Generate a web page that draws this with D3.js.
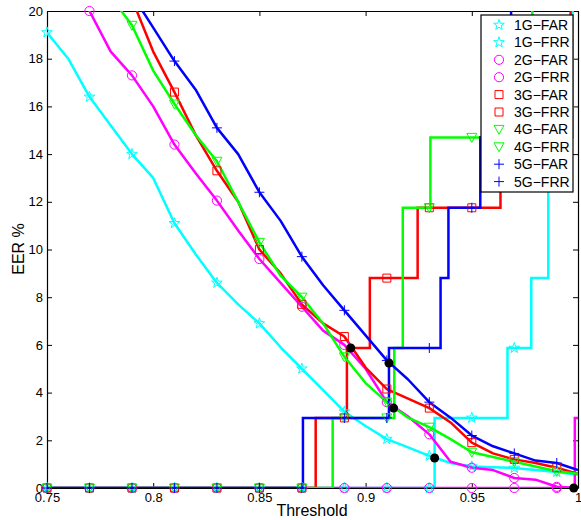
<!DOCTYPE html>
<html>
<head>
<meta charset="utf-8">
<script src="https://cdn.jsdelivr.net/npm/d3@7"></script>
<style>
  body { margin: 0; background: #fff; }
  text { font-family: "Liberation Sans", Arial, sans-serif; fill: #000; }
</style>
</head>
<body>
<svg width="581" height="520"></svg>
<script>
// threshold grid of the FRR curves
const thresholds = [0.75, 0.76, 0.77, 0.78, 0.79, 0.80, 0.81, 0.82, 0.83, 0.84, 0.85, 0.86, 0.87,
  0.88, 0.89, 0.90, 0.91, 0.92, 0.93, 0.94, 0.95, 0.96, 0.97, 0.98, 0.99, 1.00];

// FRR (%) per group (values over 20 are clipped)
const frr1 = [19.1, 18.0, 16.4, 15.2, 14.0, 13.0, 11.1, 9.8, 8.6, 7.7, 6.9, 5.9, 5.0,
  4.1, 3.2, 2.6, 2.05, 1.7, 1.35, 1.05, 0.9, 0.87, 0.84, 0.75, 0.67, 0.55];
const frr2 = [23.0, 21.5, 20.0, 18.3, 17.3, 16.0, 14.4, 13.2, 12.05, 10.8, 9.6, 8.6, 7.6,
  6.6, 6.0, 5.0, 3.6, 3.0, 2.25, 1.1, 0.85, 0.75, 0.42, 0.35, 0.05, 0.0];
const frr3 = [24.5, 23.5, 22.5, 21.5, 20.5, 18.3, 16.6, 14.8, 13.3, 12.0, 10.0, 9.0, 7.7,
  6.9, 6.35, 5.05, 4.15, 3.75, 3.35, 2.75, 1.9, 1.45, 1.2, 1.05, 0.85, 0.6];
const frr4 = [24.0, 23.0, 21.8, 20.6, 19.4, 17.5, 16.1, 14.8, 13.7, 12.0, 10.3, 8.9, 8.0,
  6.9, 5.5, 4.4, 3.6, 2.95, 2.55, 2.05, 1.5, 1.3, 1.1, 0.9, 0.7, 0.6];
const frr5 = [23.7, 23.0, 22.3, 21.5, 20.7, 19.3, 17.9, 16.7, 15.1, 14.0, 12.4, 11.2, 9.7,
  8.5, 7.45, 6.4, 5.35, 4.55, 3.6, 2.95, 2.2, 1.75, 1.45, 1.15, 1.05, 0.75];

// FAR (%) per group as steps: [threshold where the step starts, value]
const far1 = [[0.75, 0], [0.9325, 2.94], [0.9668, 5.87], [0.978, 8.8], [0.986, 14.7], [0.9975, 23]];
const far2 = [[0.75, 0], [0.9985, 2.94]];
const far3 = [[0.75, 0], [0.8765, 2.94], [0.8912, 5.87], [0.902, 8.8], [0.9245, 11.75], [0.9635, 14.7], [0.9965, 23]];
const far4 = [[0.75, 0], [0.8845, 2.94], [0.9135, 5.87], [0.9175, 11.75], [0.9305, 14.7], [0.9785, 23]];
const far5 = [[0.75, 0], [0.8705, 2.94], [0.911, 5.87], [0.9353, 8.8], [0.939, 11.75], [0.954, 14.7], [0.9685, 23]];

// equal error rate points
const eerT = [0.893, 0.911, 0.9132, 0.9325, 0.998];
const eerV = [5.87, 5.24, 3.35, 1.26, 0];

const groups = ["1G", "2G", "3G", "4G", "5G"];
const colors = ["#00ffff", "#ff00ff", "#ff0000", "#00ff00", "#0000ff"];
const markers = ["star", "circle", "square", "triangle", "plus"];
const frrs = [frr1, frr2, frr3, frr4, frr5];
const fars = [far1, far2, far3, far4, far5];

const xTicks = [0.75, 0.8, 0.85, 0.9, 0.95, 1];
const xTickLabels = ["0.75", "0.8", "0.85", "0.9", "0.95", "1"];
const yTicks = [0, 2, 4, 6, 8, 10, 12, 14, 16, 18, 20];

const svg = d3.select("svg");
const x = d3.scaleLinear().domain([0.75, 1]).range([47, 578]);
const y = d3.scaleLinear().domain([0, 20]).range([488, 11]);

// axes (ticks pointing inward, box on)
function styleAxis(g) {
  g.selectAll("path, line").attr("stroke", "#000");
  g.selectAll("text").attr("font-size", 13).attr("fill", "#000");
}
svg.append("g").attr("transform", "translate(0,488)")
  .call(d3.axisBottom(x).tickValues(xTicks).tickFormat((d, i) => xTickLabels[i])
    .tickSizeInner(-5).tickSizeOuter(0).tickPadding(5))
  .call(styleAxis);
svg.append("g").attr("transform", "translate(0,11)")
  .call(d3.axisTop(x).tickValues(xTicks).tickFormat("").tickSizeInner(-5).tickSizeOuter(0))
  .call(styleAxis);
svg.append("g").attr("transform", "translate(47,0)")
  .call(d3.axisLeft(y).tickValues(yTicks).tickSizeInner(-5).tickSizeOuter(0).tickPadding(4))
  .call(styleAxis);
svg.append("g").attr("transform", "translate(578,0)")
  .call(d3.axisRight(y).tickValues(yTicks).tickFormat("").tickSizeInner(-5).tickSizeOuter(0))
  .call(styleAxis);
svg.selectAll(".domain").attr("stroke-width", 1.2);

svg.append("text").attr("x", 312).attr("y", 516).attr("text-anchor", "middle")
  .attr("font-size", 16).text("Threshold");
svg.append("text").attr("transform", "translate(24,249) rotate(-90)")
  .attr("text-anchor", "middle").attr("font-size", 16).text("EER %");

svg.append("clipPath").attr("id", "plot")
  .append("rect").attr("x", 47).attr("y", 11).attr("width", 531).attr("height", 477);

// marker shapes
function markerPath(kind) {
  if (kind === "circle") return d3.symbol(d3.symbolCircle, 66)();
  if (kind === "square") return "M-4,-4H4V4H-4Z";
  if (kind === "triangle") return "M-5,-4L5,-4L0,5Z";
  if (kind === "plus") return "M-5,0H5M0,-5V5";
  const pts = d3.range(10).map(i => {
    const r = i % 2 ? 2.2 : 5.6, a = -Math.PI / 2 + i * Math.PI / 5;
    return [r * Math.cos(a), r * Math.sin(a)];
  });
  return "M" + pts.join("L") + "Z";
}

function stepAt(steps, t) {
  let v = steps[0][1];
  steps.forEach(s => { if (t >= s[0]) v = s[1]; });
  return v;
}

const markT = thresholds.filter((d, i) => i % 2 === 0);
const lines = svg.append("g").attr("clip-path", "url(#plot)");
const marks = svg.append("g");

const frrLine = d3.line().x((d, i) => x(thresholds[i])).y(d => y(d));
const farLine = d3.line().curve(d3.curveStepAfter).x(d => x(d[0])).y(d => y(d[1]));

groups.forEach((g, k) => {
  const steps = fars[k].concat([[1, fars[k][fars[k].length - 1][1]]]);
  lines.append("path").datum(steps).attr("d", farLine)
    .attr("fill", "none").attr("stroke", colors[k]).attr("stroke-width", 2.5);
  lines.append("path").datum(frrs[k]).attr("d", frrLine)
    .attr("fill", "none").attr("stroke", colors[k]).attr("stroke-width", 2.5)
    .attr("stroke-linejoin", "round");

  const pts = [];
  markT.forEach(t => {
    pts.push([t, stepAt(fars[k], t)]);
    pts.push([t, frrs[k][thresholds.indexOf(t)]]);
  });
  marks.selectAll(null).data(pts.filter(p => p[1] <= 20)).enter().append("path")
    .attr("transform", p => `translate(${x(p[0])},${y(p[1])})`)
    .attr("d", markerPath(markers[k]))
    .attr("fill", "none").attr("stroke", colors[k]).attr("stroke-width", 1);
});

svg.append("g").selectAll("circle").data(eerT).enter().append("circle")
  .attr("cx", d => x(d)).attr("cy", (d, i) => y(eerV[i])).attr("r", 4.5).attr("fill", "#000");

// legend
const legend = svg.append("g");
legend.append("rect").attr("x", 481).attr("y", 15).attr("width", 92).attr("height", 177)
  .attr("fill", "#fff").attr("stroke", "#000").attr("stroke-width", 1.2);
const entries = [];
groups.forEach((g, k) => {
  entries.push({ label: g + "\u2212FAR", k });
  entries.push({ label: g + "\u2212FRR", k });
});
entries.forEach((e, i) => {
  const cy = 25 + i * 17.4;
  legend.append("path").attr("transform", `translate(499,${cy})`)
    .attr("d", markerPath(markers[e.k])).attr("fill", "none")
    .attr("stroke", colors[e.k]).attr("stroke-width", 1);
  legend.append("text").attr("x", 514).attr("y", cy + 5).attr("font-size", 14).text(e.label);
});
</script>
</body>
</html>
